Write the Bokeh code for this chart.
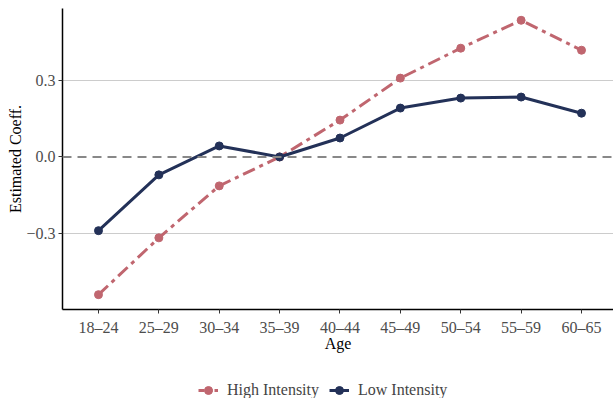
from bokeh.plotting import figure
from bokeh.models import FixedTicker, Span, Range1d, Legend, LegendItem, ColumnDataSource
from bokeh.layouts import column
from bokeh.embed import file_html
from bokeh.resources import INLINE

age_groups = ["18–24", "25–29", "30–34", "35–39", "40–44", "45–49", "50–54", "55–59", "60–65"]
high_intensity = [-0.538, -0.316, -0.113, 0.0, 0.144, 0.308, 0.425, 0.534, 0.417]
low_intensity = [-0.288, -0.070, 0.043, 0.0, 0.074, 0.191, 0.230, 0.234, 0.171]
y_ticks = [-0.3, 0.0, 0.3]
y_tick_labels = ["−0.3", "0.0", "0.3"]
series_names = ["High Intensity", "Low Intensity"]

xs = list(range(1, len(age_groups) + 1))
src = ColumnDataSource(dict(x=xs, high=high_intensity, low=low_intensity))

FONT = "Liberation Serif"
FS = "16px"
PINK = "#C0666F"
NAVY = "#233158"
HIGH_DASH = "13 5 4 5"

p = figure(width=613, height=354, output_backend="svg", toolbar_location=None,
           x_range=Range1d(0.404, 9.53), y_range=Range1d(-0.596, 0.58),
           min_border_left=62, min_border_top=8, min_border_right=0, min_border_bottom=0)
p.outline_line_color = None
p.background_fill_color = "white"

p.xgrid.grid_line_color = None
p.ygrid.grid_line_color = "#cccccc"
p.ygrid.grid_line_width = 1
p.ygrid.ticker = FixedTicker(ticks=[-0.3, 0.3])

zero = Span(location=0, dimension="width", line_color="#888888", line_width=2, line_dash="9 6")
p.add_layout(zero)

p.line("x", "high", source=src, line_color=PINK, line_width=3, line_dash=HIGH_DASH)
p.scatter("x", "high", source=src, size=8, color=PINK)
p.line("x", "low", source=src, line_color=NAVY, line_width=3)
p.scatter("x", "low", source=src, size=8, color=NAVY)

p.xaxis.ticker = FixedTicker(ticks=xs)
p.xaxis.major_label_overrides = {x: lab for x, lab in zip(xs, age_groups)}
p.yaxis.ticker = FixedTicker(ticks=y_ticks)
p.yaxis.major_label_overrides = {t: lab for t, lab in zip(y_ticks, y_tick_labels)}

for ax in (p.xaxis[0], p.yaxis[0]):
    ax.axis_line_color = "black"
    ax.axis_line_width = 1.5
    ax.major_tick_line_color = "#333333"
    ax.major_tick_out = 4
    ax.major_tick_in = 0
    ax.minor_tick_line_color = None
    ax.major_label_text_font = FONT
    ax.major_label_text_font_size = FS
    ax.major_label_text_color = "#4d4d4d"
    ax.axis_label_text_font = FONT
    ax.axis_label_text_font_size = FS
    ax.axis_label_text_font_style = "normal"
    ax.axis_label_text_color = "black"

p.xaxis.axis_label = "Age"
p.xaxis.axis_label_standoff = -4
p.xaxis.major_label_standoff = 5
p.yaxis.axis_label = "Estimated Coeff."
p.yaxis.axis_label_standoff = -1
p.yaxis.major_label_standoff = 3

# legend strip below
q = figure(width=613, height=44, output_backend="svg", toolbar_location=None,
           x_range=Range1d(100, 101), y_range=Range1d(100, 101), min_border=0)
q.outline_line_color = None
q.axis.visible = False
q.grid.visible = False
rh1 = q.line(xs, high_intensity, line_color=PINK, line_width=3, line_dash="6 2")
rh2 = q.scatter(xs, high_intensity, size=8, color=PINK)
rl1 = q.line(xs, low_intensity, line_color=NAVY, line_width=3)
rl2 = q.scatter(xs, low_intensity, size=8, color=NAVY)
legend = Legend(items=[LegendItem(label=series_names[0], renderers=[rh1, rh2]),
                       LegendItem(label=series_names[1], renderers=[rl1, rl2])],
                orientation="horizontal", location=(136, -2))
legend.label_text_font = FONT
legend.label_text_font_size = FS
legend.border_line_color = None
legend.background_fill_alpha = 0
legend.glyph_width = 20
legend.spacing = 10
legend.label_standoff = 9
legend.margin = 0
legend.padding = 1
q.add_layout(legend, "center")

open("out.html", "w").write(file_html(column(p, q, spacing=0), INLINE))
